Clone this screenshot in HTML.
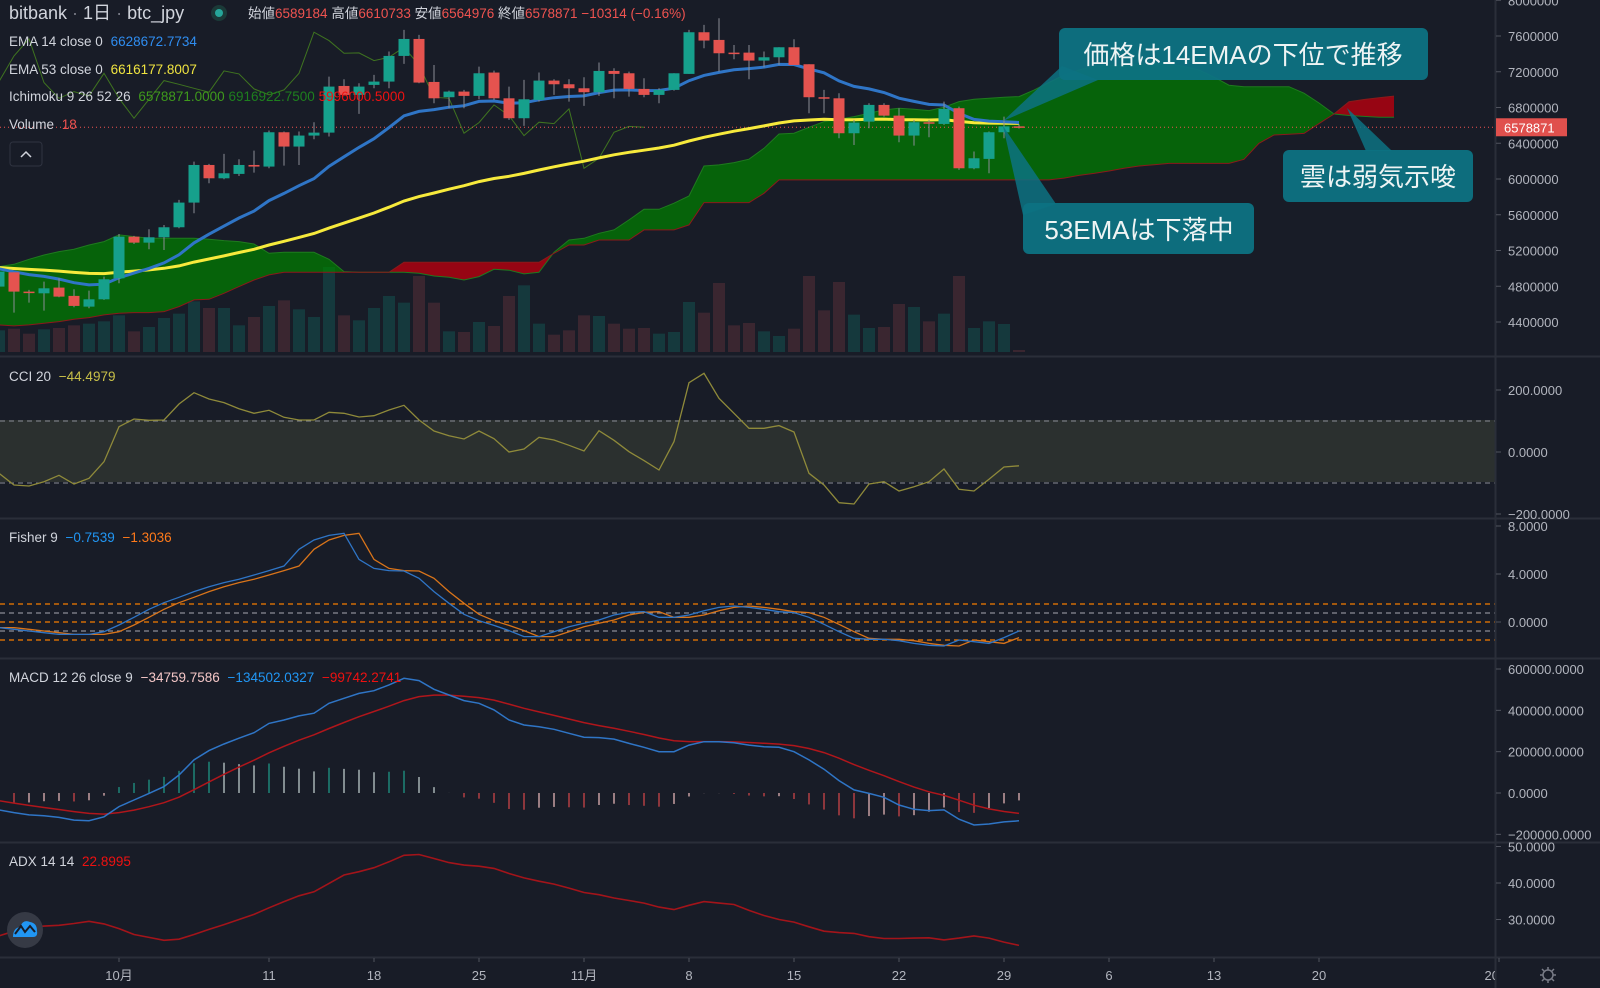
<!DOCTYPE html>
<html><head><meta charset="utf-8">
<style>
html,body{margin:0;padding:0;background:#181c27;}
svg{display:block;font-family:"Liberation Sans","Noto Sans CJK JP",sans-serif;}
.ax{fill:#b2b5be;font-size:13px;}
.lg{font-size:13.5px;fill:#d1d4dc;}
</style></head>
<body>
<svg id="chart" width="1600" height="988" viewBox="0 0 1600 988">
<defs>
<clipPath id="cp-price"><rect x="0" y="0" width="1495" height="356"/></clipPath>
<clipPath id="cp-cci"><rect x="0" y="357" width="1495" height="161"/></clipPath>
<clipPath id="cp-fish"><rect x="0" y="519" width="1495" height="139"/></clipPath>
<clipPath id="cp-macd"><rect x="0" y="659" width="1495" height="183"/></clipPath>
<clipPath id="cp-adx"><rect x="0" y="843" width="1495" height="114"/></clipPath>
<clipPath id="cp-axis"><rect x="0" y="957" width="1495" height="31"/></clipPath>
</defs>
<rect x="0" y="0" width="1600" height="988" fill="#181c27"/>
<g id="price-pane" clip-path="url(#cp-price)"></g>
<rect x="0" y="420" width="1495" height="62" fill="#2b302f"/>
<g id="cci-pane" clip-path="url(#cp-cci)"></g>
<g id="fish-pane" clip-path="url(#cp-fish)"></g>
<g id="macd-pane" clip-path="url(#cp-macd)"></g>
<g id="adx-pane" clip-path="url(#cp-adx)"></g>
<g id="seps">
<line x1="0" y1="356.5" x2="1600" y2="356.5" stroke="#2a2e39" stroke-width="2"/>
<line x1="0" y1="518.5" x2="1600" y2="518.5" stroke="#2a2e39" stroke-width="2"/>
<line x1="0" y1="658.5" x2="1600" y2="658.5" stroke="#2a2e39" stroke-width="2"/>
<line x1="0" y1="842.5" x2="1600" y2="842.5" stroke="#2a2e39" stroke-width="2"/>
<line x1="0" y1="957.5" x2="1600" y2="957.5" stroke="#2a2e39" stroke-width="2"/>
<line x1="1495.5" y1="0" x2="1495.5" y2="988" stroke="#2a2e39" stroke-width="2"/>
</g>
<g id="yaxis" class="ax"></g>
<g id="xaxis" class="ax"></g>

<!-- header/legends -->
<g>
<text x="9" y="19" font-size="18" fill="#d1d4dc">bitbank <tspan fill="#787b86">·</tspan> 1日 <tspan fill="#787b86">·</tspan> btc_jpy</text>
<circle cx="219" cy="13" r="8" fill="#1b3a38"/>
<circle cx="219" cy="13" r="4" fill="#26a69a"/>
<text x="248" y="18" font-size="13.5" fill="#d1d4dc">始値<tspan fill="#ef5350">6589184</tspan> 高値<tspan fill="#ef5350">6610733</tspan> 安値<tspan fill="#ef5350">6564976</tspan> 終値<tspan fill="#ef5350">6578871</tspan> <tspan fill="#ef5350">−10314 (−0.16%)</tspan></text>
</g>
<text class="lg" x="9" y="46">EMA 14 close 0 <tspan fill="#2f8df0" dx="4">6628672.7734</tspan></text>
<text class="lg" x="9" y="74">EMA 53 close 0 <tspan fill="#f0e440" dx="4">6616177.8007</tspan></text>
<text class="lg" x="9" y="101">Ichimoku 9 26 52 26 <tspan fill="#3f9a1c" dx="4">6578871.0000</tspan> <tspan fill="#1e7f1e">6916922.7500</tspan> <tspan fill="#ee1111">5996000.5000</tspan></text>
<text class="lg" x="9" y="129">Volume <tspan fill="#ef5350" dx="4">18</tspan></text>
<g>
<rect x="10" y="142" width="32" height="24" rx="3" fill="#181c27" stroke="#2f3340"/>
<path d="M21 157 L26 152 L31 157" stroke="#d1d4dc" stroke-width="1.5" fill="none"/>
</g>
<text class="lg" x="9" y="381">CCI 20 <tspan fill="#c8c048" dx="4">−44.4979</tspan></text>
<text class="lg" x="9" y="542">Fisher 9 <tspan fill="#2196f3" dx="4">−0.7539</tspan> <tspan fill="#ff7a1a" dx="4">−1.3036</tspan></text>
<text class="lg" x="9" y="682">MACD 12 26 close 9 <tspan fill="#f4c6c6" dx="4">−34759.7586</tspan> <tspan fill="#2196f3" dx="4">−134502.0327</tspan> <tspan fill="#ee1111" dx="4">−99742.2741</tspan></text>
<text class="lg" x="9" y="866">ADX 14 14 <tspan fill="#ee1111" dx="4">22.8995</tspan></text>
<g>
<circle cx="25" cy="930" r="18" fill="#363a45"/>
<path d="M13 937 Q13 928 20 927 Q23 919 30 922 Q37 923 37 931 Q38 937 33 937 Z" fill="#2196f3"/>
<path d="M15 934 L21 926 L25 932 L30 926 L35 932" stroke="#181c27" stroke-width="2" fill="none"/>
</g>
<g>
<circle cx="1548" cy="975" r="5" fill="none" stroke="#787b86" stroke-width="1.5"/>
<path d="M1548 967 V970 M1548 980 V983 M1540 975 H1543 M1553 975 H1556 M1542 969 L1544 971 M1552 979 L1554 981 M1554 969 L1552 971 M1544 979 L1542 981" stroke="#787b86" stroke-width="1.5"/>
</g>

<!-- annotations -->
<g>
<polygon points="1062,66 1098,80 1003,121" fill="#0d7282" fill-opacity="0.85"/>
<rect x="1059" y="28" width="369" height="52" rx="6" fill="#0d7282" fill-opacity="0.95"/>
<text x="1243" y="64" text-anchor="middle" font-size="26" fill="#eef4f4">価格は14EMAの下位で推移</text>
</g>
<g>
<polygon points="1347,108 1366,151 1392,151" fill="#0d7282" fill-opacity="0.85"/>
<rect x="1283" y="150" width="190" height="52" rx="6" fill="#0d7282" fill-opacity="0.95"/>
<text x="1378" y="186" text-anchor="middle" font-size="26" fill="#eef4f4">雲は弱気示唆</text>
</g>
<g>
<polygon points="1003,126 1023,215 1056,204" fill="#0d7282" fill-opacity="0.85"/>
<rect x="1023" y="203" width="231" height="51" rx="6" fill="#0d7282" fill-opacity="0.95"/>
<text x="1139" y="239" text-anchor="middle" font-size="26" fill="#eef4f4">53EMAは下落中</text>
</g>
</svg>
<script>
// ===== data (price in 万円) =====
const opens=[479.6,495.6,474,472.1,478.5,469.2,457.2,465.4,488.9,535.5,528.8,534.8,546,573.6,615.7,600.8,605.7,615.7,613.9,652.3,636.3,648.6,651.9,704.1,694.1,705.3,709,737.7,756.7,708.6,691.5,697.8,693,719.1,690.3,668,688.5,710.1,706,701.5,697.1,720.9,718.3,700.8,694.1,699.7,717.6,764.2,755.6,741.4,741.4,732.5,736.2,747.4,728.4,691.5,690.3,651.2,664.2,682.9,670.9,648.6,663.5,661.6,679.2,612,622.5,652.3,658.9];
const closes=[496.4,474,472.9,477.7,468.4,458,465.4,487.8,535.5,528.8,534.8,546,573.6,615.7,600.8,606.4,615.7,613.9,652.3,636.3,648.6,651.9,703.4,694.1,703.4,709,737.7,756.7,707.9,690.3,697.8,693,718.3,690.3,668,689.2,710.1,706,701.5,697.1,720.9,717.6,700.8,694.1,699.7,718.3,764.2,754.9,740.7,741.1,732.5,736.2,747.4,727.6,691.5,690.3,651.2,663.1,682.9,670.9,648.6,663.5,662,678.4,612,623.2,652.3,658.9,657.9];
const highs=[500,495.6,475.9,485.2,488.9,476.6,475.1,490.8,538.5,536.3,543.8,548.6,576.6,619.5,616.9,628.1,622.1,631.8,654.2,653.1,653.1,663.5,714.6,711.6,707.1,716.5,742.6,766.8,761.2,727.6,698.9,699.7,725.8,721.3,703.4,710.9,719.1,711.6,711.6,713.8,730.3,723.9,720.2,712.7,701.5,718.3,766.8,772.4,779.9,750,750,742.6,747.4,756.4,728.4,699.7,695.9,666.1,684.8,684.8,679.2,666.1,666.1,686.6,681,630.7,653.1,669.8,661.1];
const lows=[476,450.5,461.7,452.7,467.7,456.5,455.4,464.7,483.3,527.3,521.4,520.6,544.9,561.7,595.2,599.7,603.4,607.2,612,615,615.7,644.5,647.5,694.1,672.8,701.5,701.5,728.8,707.1,684.8,679.2,679.2,689.2,688.5,666.1,659.4,686.6,694.1,686.6,681.8,693,690.3,692.2,691.5,684.8,698.9,717.6,746.3,720.2,734,711.6,725,727.6,727.6,673.6,673.6,645.6,638.1,656.8,669.8,641.1,637.4,646.7,660.5,610.2,610.9,606.4,645.6,656.5];
const volumes=[65,70,55,68,72,80,85,92,110,62,75,102,115,152,132,132,80,105,138,155,128,105,255,110,95,132,168,148,228,148,62,60,90,78,168,200,85,52,65,110,108,85,70,72,55,60,150,118,207,80,87,62,48,70,228,125,210,112,72,75,144,135,92,115,228,72,92,84,6];
const spanA=[502,504.6,510.2,515,518.8,521.4,526.2,530,537.4,535.5,533.7,533.7,533.7,533.7,532.6,531.1,530,527.3,516.9,518,518,518,510.2,496.4,495.6,495.6,495.6,495.6,494.5,491.5,490,487,490.8,499,498,493.8,495.6,518,531.8,533.7,539.3,543,554.2,566.1,566.1,572.9,581,614.6,615.8,618.4,622.1,634.4,650.4,651.2,657.9,664.2,666.8,669.8,673.6,677.3,679.2,678,676.5,680.3,686.6,689.2,690.3,691.5,692.2,699.5,708,716.3,722,726.4,727,727.5,728,729,729,726,722,714,705,703.3,703.3,703.3,703.3,696,685,672.7,671,670,669,669];
const spanB=[436.7,435.6,436.7,438.6,440.4,443,444.9,447.9,449.8,450.5,450.5,451.6,457.2,464.7,465.4,472.1,479.6,487,492.7,495.6,495.6,495.6,495.6,495.6,495.6,495.6,495.6,506.8,506.8,506.8,506.8,506.8,506.8,506.8,506.8,506.8,506.8,516.9,526.2,526.2,531.8,531.8,531.8,543,543,543,548.6,573.6,573.6,573.6,573.6,584,599,599,599,599,599,599,599,599,599,599,599,599,599,599,599,599,599,599,599,601,604,606.3,609,612,614.5,616,617.5,617.5,617.5,617.5,617.5,622,640,649.2,650,651,662,672.7,686.5,689,691,692.8];
const cciValues=[-68.8,-106.4,-109.7,-95.7,-75.3,-103.2,-84.9,-31.2,81.7,106.5,102.2,103.2,154.9,191.4,171,159.2,139.8,124.8,134.4,111.8,103.2,103.2,128,124.8,112.9,117.2,135.5,150.5,103.2,67.8,52.7,42,67.8,43,0,9.7,47.3,38.7,21.5,3.2,68.8,37.7,1.1,-27.9,-58,33.4,223.7,253.8,173.1,124.8,76.4,76.4,85,64.5,-68.8,-106.4,-163.4,-167.7,-103.2,-95.7,-125.8,-111.8,-95.7,-54.8,-120.4,-125.8,-88.2,-48.4,-44.5];
const fisherValues=[-0.47,-0.61,-0.75,-0.89,-1.03,-1.03,-1.03,-0.81,-0.25,0.39,1.06,1.61,2.06,2.53,2.94,3.28,3.56,3.92,4.28,4.67,6.06,6.83,7.22,7.39,5.22,4.47,4.28,4.25,3.64,2.53,1.56,0.64,0.11,-0.28,-0.72,-1.22,-1.22,-0.81,-0.39,-0.11,0.17,0.58,0.81,0.86,0.39,0.39,0.58,0.94,1.22,1.33,1.22,1.06,0.86,0.78,0.39,-0.19,-0.81,-1.36,-1.44,-1.44,-1.56,-1.78,-1.94,-2.0,-1.5,-1.64,-1.78,-1.3,-0.75];
const macdValues=[-82000,-95000,-106000,-110000,-118000,-131000,-134000,-115000,-66000,-34000,-2000,31000,87000,160000,205000,237000,265000,292000,337000,353000,373000,386000,434000,458000,482000,495000,523000,555000,544000,502000,474000,447000,434000,402000,353000,329000,321000,308000,289000,270000,268000,261000,240000,221000,200000,200000,232000,248000,248000,243000,232000,224000,221000,200000,160000,115000,60000,15000,-2000,-21000,-58000,-79000,-85000,-82000,-127000,-155000,-150000,-140000,-134500];
const adxValues=[25.5,26.8,27.8,28.2,28.4,28.9,29.5,28.8,27.5,25.9,25.1,24.3,24.6,25.9,27.3,28.6,30,31.4,33.2,34.9,36.5,37.6,39.9,42.2,43.1,44.2,45.8,47.6,47.8,46.7,45.6,44.9,44.6,44,42.6,41.4,40.5,39.7,38.6,37.4,36.8,35.9,35.2,34.5,33.4,32.7,33.9,34.9,34.5,34.1,32.5,31.1,30,29.3,28,26.8,26.4,26.2,25.3,24.8,24.8,24.9,25,24.4,24.9,25.5,24.9,23.8,22.9];
const priceTicks=[800,760,720,680,640,600,560,520,480,440];
const cciTicks=[200,0,-200];
const fisherTicks=[8,4,0];
const macdTicks=[600000,400000,200000,0,-200000];
const adxTicks=[50,40,30];
const dateIdx=[8,18,25,32,39,46,53,60,67,74,81,88,100];
const dateLabels=["10月","11","18","25","11月","8","15","22","29","6","13","20","2021"];
const lastPrice=657.8871;
const ema14Seed=500, ema53Seed=501, signalSeed=-26000;

// ===== scales =====
const NS="http://www.w3.org/2000/svg";
const X=i=>-1+15*i;
const YP=p=>36+(760-p)*0.89375;
const YV=v=>352-v/3;
const YC=v=>452-v*0.31;
const YF=v=>622-v*12;
const YM=v=>793-v*124/600000;
const YA=v=>883-(v-40)*3.65;
function mk(tag,attrs,parent){const e=document.createElementNS(NS,tag);for(const k in attrs)e.setAttribute(k,attrs[k]);parent.appendChild(e);return e;}
function pts(arr,yf,off){return arr.map((v,i)=>X(i+(off||0)).toFixed(1)+","+yf(v).toFixed(1)).join(" ");}
function ema(arr,n,seed){const a=2/(n+1);let e=seed;return arr.map(v=>(e=e+a*(v-e)));}

const P=document.getElementById('price-pane');
// volume
volumes.forEach((v,i)=>{
  const up=closes[i]>=opens[i];
  const r=mk('rect',{x:X(i)-6,y:YV(v),width:12,height:v/3,fill:up?'#15393d':'#3a2630'},P);
  
  
});
// cloud
function cloudSeg(i,a0,b0,a1,b1){
  const x0=X(i),x1=X(i+1);
  const d0=a0-b0,d1=a1-b1;
  const poly=(xs,as,bs,green)=>{
    const p=[];for(let k=0;k<xs.length;k++)p.push(xs[k]+","+YP(as[k]));
    for(let k=xs.length-1;k>=0;k--)p.push(xs[k]+","+YP(bs[k]));
    const g=mk('polygon',{points:p.join(" "),fill:green?'#008000':'#b3000f','fill-opacity':green?0.72:0.82},P);
    
    
  };
  if(d0*d1<0){
    const t=d0/(d0-d1);const xm=x0+t*(x1-x0);const am=a0+t*(a1-a0);
    poly([x0,xm],[a0,am],[b0,am],d0>0);
    poly([xm,x1],[am,a1],[am,b1],d1>0);
  }else poly([x0,x1],[a0,a1],[b0,b1],(d0+d1)>=0);
}
for(let i=0;i<spanA.length-1;i++)cloudSeg(i,spanA[i],spanB[i],spanA[i+1],spanB[i+1]);
const la=mk('polyline',{points:pts(spanA,YP),fill:'none',stroke:'#1f7a1f','stroke-width':1},P);


const lb=mk('polyline',{points:pts(spanB,YP),fill:'none',stroke:'#8a1a1a','stroke-width':1},P);


// lagging span
const lag=mk('polyline',{points:pts(closes,YP,-25),fill:'none',stroke:'#3f7420','stroke-width':1},P);


// price line
const pl=mk('line',{x1:0,x2:1495,y1:YP(lastPrice),y2:YP(lastPrice),stroke:'#ef5350','stroke-width':1,'stroke-dasharray':'1 3'},P);


// EMAs
const e53=mk('polyline',{points:pts(ema(closes,53,ema53Seed),YP),fill:'none',stroke:'#f7ea3c','stroke-width':3},P);


const e14=mk('polyline',{points:pts(ema(closes,14,ema14Seed),YP),fill:'none',stroke:'#2f75c6','stroke-width':3},P);


// candles
opens.forEach((o,i)=>{
  const c=closes[i],up=c>=o,col=up?'#16a08c':'#e5534f';
  const w=mk('line',{x1:X(i),x2:X(i),y1:YP(highs[i]),y2:YP(lows[i]),stroke:'#8a8d96','stroke-width':1},P);
  
  
  const top=YP(Math.max(o,c)),h=Math.max(1.5,Math.abs(YP(o)-YP(c)));
  const b=mk('rect',{x:X(i)-5.5,y:top,width:11,height:h,fill:col},P);
  
  
});

// CCI
const C=document.getElementById('cci-pane');
[100,-100].forEach(v=>{
  const l=mk('line',{x1:0,x2:1495,y1:YC(v),y2:YC(v),stroke:'#8a8d96','stroke-dasharray':'5 4','stroke-width':1},C);
  
  
});
const cl=mk('polyline',{points:pts(cciValues,YC),fill:'none',stroke:'#8f8a3a','stroke-width':1.3},C);



// Fisher
const F=document.getElementById('fish-pane');
[[1.5,'#f57c00'],[0.75,'#8a8d96'],[0,'#f57c00'],[-0.75,'#8a8d96'],[-1.5,'#f57c00']].forEach(([v,c])=>{
  const l=mk('line',{x1:0,x2:1495,y1:YF(v),y2:YF(v),stroke:c,'stroke-dasharray':'5 4','stroke-width':1.3},F);
  
  
});
const trig=fisherValues.map((v,i)=>i?fisherValues[i-1]:v);
const ft=mk('polyline',{points:pts(trig,YF),fill:'none',stroke:'#d9741a','stroke-width':1.3},F);


const fl=mk('polyline',{points:pts(fisherValues,YF),fill:'none',stroke:'#2f75c6','stroke-width':1.3},F);



// MACD
const M=document.getElementById('macd-pane');
const signal=ema(macdValues,9,signalSeed);
const hist=macdValues.map((v,i)=>v-signal[i]);
hist.forEach((h,i)=>{
  const prev=i?hist[i-1]:h;
  const col=h>=0?(h>=prev?'#1fa08e':'#c8d8d6'):(h<prev?'#d9474a':'#f3c1c1');
  const l=mk('line',{x1:X(i),x2:X(i),y1:YM(0),y2:YM(h),stroke:col,'stroke-width':1.2},M);
  
  
});
const sl=mk('polyline',{points:pts(signal,YM),fill:'none',stroke:'#b0161b','stroke-width':1.5},M);


const ml=mk('polyline',{points:pts(macdValues,YM),fill:'none',stroke:'#2f75c6','stroke-width':1.5},M);



// ADX
const A=document.getElementById('adx-pane');
const al=mk('polyline',{points:pts(adxValues,YA),fill:'none',stroke:'#a3141a','stroke-width':1.6},A);



// Y axes
const YA_=document.getElementById('yaxis');
function tick(y,label,name){
  const t=mk('line',{x1:1496,x2:1501,y1:y,y2:y,stroke:'#50535e'},YA_);
  
  
  const tx=mk('text',{x:1508,y:y+5},YA_);
  tx.textContent=label;
  
  
}
priceTicks.forEach(v=>tick(YP(v),String(v*10000),'price-tick-label'));
cciTicks.forEach(v=>tick(YC(v),v.toFixed(4).replace('-','−'),'cci-tick-label'));
fisherTicks.forEach(v=>tick(YF(v),v.toFixed(4),'fisher-tick-label'));
macdTicks.forEach(v=>tick(YM(v),v.toFixed(4).replace('-','−'),'macd-tick-label'));
adxTicks.forEach(v=>tick(YA(v),v.toFixed(4),'adx-tick-label'));
// last price label
const lpy=YP(lastPrice);
const lr=mk('rect',{x:1496,y:lpy-9,width:71,height:18,fill:'#e0504d'},YA_);


const lt=mk('text',{x:1504,y:lpy+5,fill:'#ffffff'},YA_);
lt.textContent=String(Math.round(lastPrice*10000));



// X axis
const XA=document.getElementById('xaxis');
dateIdx.forEach((d,k)=>{
  const t=mk('line',{x1:X(d),x2:X(d),y1:958,y2:962,stroke:'#50535e'},XA);
  
  
  const tx=mk('text',{x:X(d),y:980,'text-anchor':'middle','clip-path':'url(#cp-axis)'},XA);
  tx.textContent=dateLabels[k];
  
  
});
</script>
</body></html>
